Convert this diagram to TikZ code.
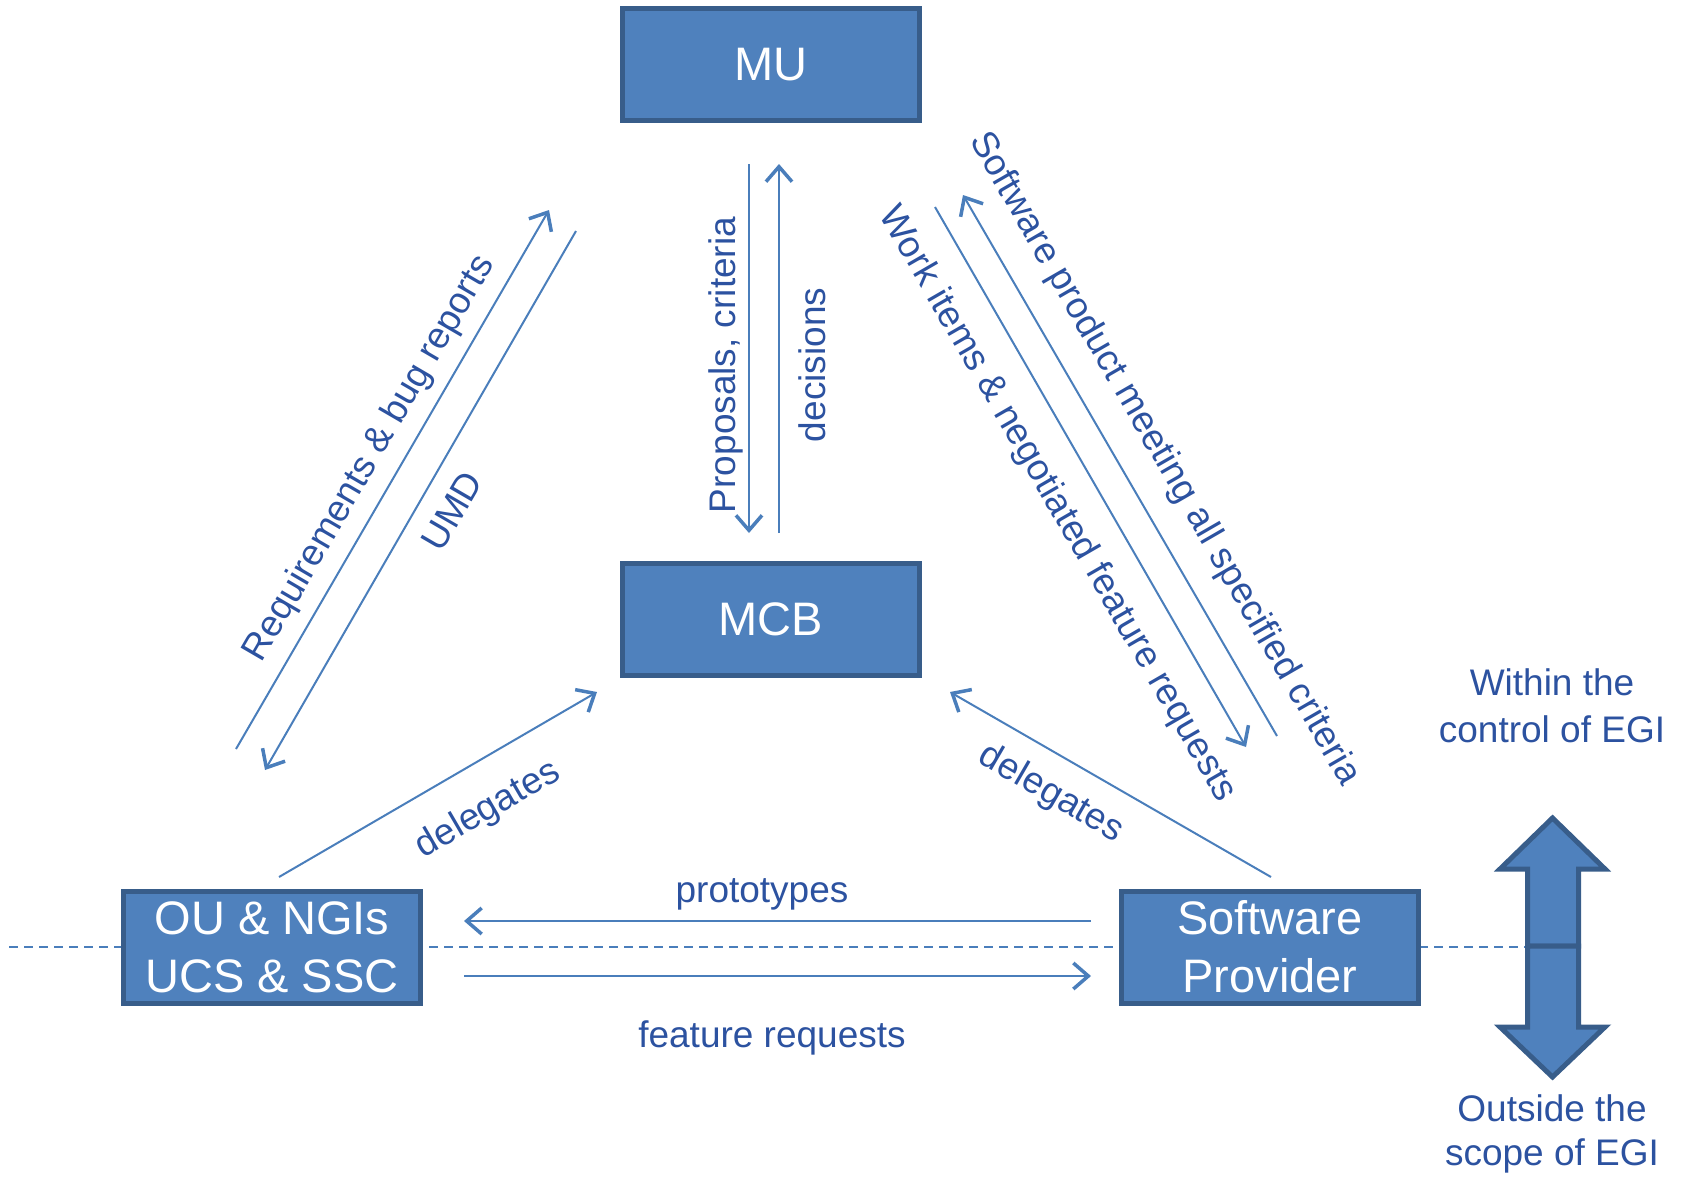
\documentclass[tikz,border=0pt]{standalone}
\usepackage{fontspec}
\setmainfont{Liberation Sans}
\usetikzlibrary{arrows.meta}
\definecolor{boxfill}{HTML}{4F81BD}
\definecolor{boxdraw}{HTML}{385D8A}
\definecolor{linec}{HTML}{4A7EBB}
\definecolor{txtc}{HTML}{2C52A0}
\begin{document}
\begin{tikzpicture}[x=1pt,y=-1pt,
  blk/.style={draw=boxdraw, fill=boxfill, line width=5pt, minimum width=297pt, minimum height=112pt, inner sep=0pt, text=white, font=\fontsize{47}{58}\selectfont, align=center},
  conn/.style={draw=linec, line width=2pt, -{Straight Barb[length=15pt,width=26pt,line width=3.5pt]}},
  lbl/.style={text=txtc, font=\fontsize{37}{47}\selectfont, inner sep=0pt, align=center},
  blockarrow/.style={draw=boxdraw, fill=boxfill, line width=5pt, line join=miter},
  sep/.style={draw=linec, line width=2pt, dash pattern=on 9pt off 6pt}
]
\useasboundingbox (0,0) rectangle (1682,1176);
% separator
\coordinate (sepL) at (9,947);
\coordinate (sepR) at (1527,947);
\draw[sep] (sepL) -- (sepR);
% boxes
\node[blk] (mu)  at (771,64.5) {MU};
\node[blk] (mcb) at (771,619) {MCB};
\node[blk] (ou)  at (272,947) {OU \& NGIs\\UCS \& SSC};
\node[blk] (sp)  at (1270,947) {Software\\Provider};
% double block arrow
\draw[blockarrow] (1527.5,946) -- (1527.5,869) -- (1500,869) -- (1552.5,818) -- (1605,869) -- (1578.5,869) -- (1578.5,946) -- cycle;
\draw[blockarrow] (1527.5,946) -- (1527.5,1027) -- (1500,1027) -- (1552.5,1077) -- (1605,1027) -- (1578.5,1027) -- (1578.5,946) -- cycle;
% connector endpoints
\coordinate (reqA) at (236,749);  \coordinate (reqB) at (549,210);
\coordinate (umdA) at (576,231);  \coordinate (umdB) at (265,770);
\coordinate (proA) at (749,164);  \coordinate (proB) at (749,533);
\coordinate (decA) at (779,533);  \coordinate (decB) at (779,164);
\coordinate (wrkA) at (935,207);  \coordinate (wrkB) at (1246,747);
\coordinate (swpA) at (1277,736); \coordinate (swpB) at (963,195);
\coordinate (dlA) at (279,877);   \coordinate (dlB) at (597,692);
\coordinate (drA) at (1271,877);  \coordinate (drB) at (950,692);
\coordinate (ptA) at (1091,921);  \coordinate (ptB) at (464,921);
\coordinate (frA) at (464,976);   \coordinate (frB) at (1091,976);
\draw[conn] (reqA) -- (reqB);
\draw[conn] (umdA) -- (umdB);
\draw[conn] (proA) -- (proB);
\draw[conn] (decA) -- (decB);
\draw[conn] (wrkA) -- (wrkB);
\draw[conn] (swpA) -- (swpB);
\draw[conn] (dlA) -- (dlB);
\draw[conn] (drA) -- (drB);
\draw[conn] (ptA) -- (ptB);
\draw[conn] (frA) -- (frB);
% labels
\node[lbl, rotate=59.8] (lreq) at (370,459) {Requirements \& bug reports};
\node[lbl, rotate=59.8] (lumd) at (452,511) {UMD};
\node[lbl, rotate=90] (lpro) at (726,365) {Proposals, criteria};
\node[lbl, rotate=90] (ldec) at (812,365) {decisions};
\node[lbl, rotate=-60] (lwrk) at (1057,504) {Work items \& negotiated feature requests};
\node[lbl, rotate=-60] (lswp) at (1164,459) {Software product meeting all specified criteria};
\node[lbl, rotate=30.2] (ldl) at (488,810) {delegates};
\node[lbl, rotate=-30.2] (ldr) at (1051,794) {delegates};
\node[lbl] (lpt) at (762,894) {prototypes};
\node[lbl] (lfr) at (772,1038) {feature requests};
\node[lbl] (lin1) at (1552,682) {Within the};
\node[lbl] (lin2) at (1552,729) {control of EGI};
\node[lbl] (lout1) at (1552,1108) {Outside the};
\node[lbl] (lout2) at (1552,1156) {scope of EGI};
\end{tikzpicture}
\end{document}
